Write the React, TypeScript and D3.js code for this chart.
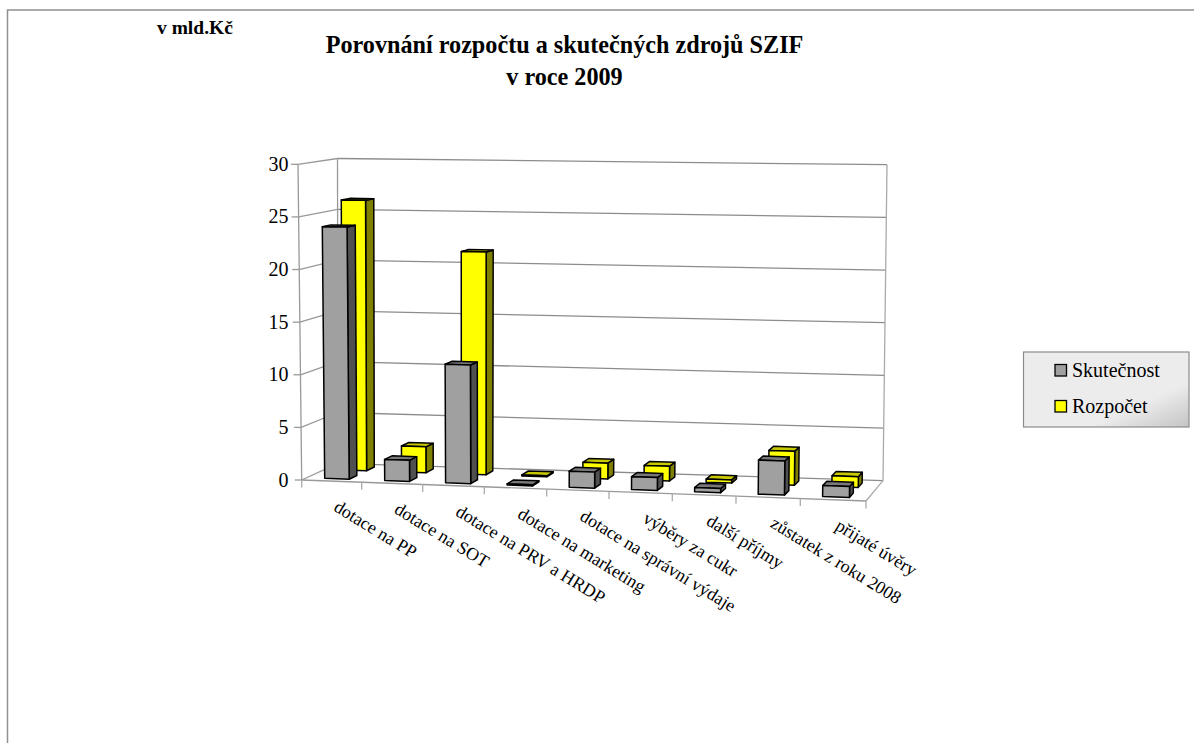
import React from "react";
import * as d3 from "d3";

const categories = ["dotace na PP", "dotace na SOT", "dotace na PRV a HRDP", "dotace na marketing", "dotace na správní výdaje", "výběry za cukr", "další příjmy", "zůstatek z roku 2008", "přijaté úvěry"];
const skutecnost = [24.0, 2.0, 11.2, 0.1, 1.5, 1.2, 0.4, 3.15, 1.0];
const rozpocet = [26.2, 2.5, 21.4, 0.1, 1.5, 1.4, 0.3, 3.2, 1.0];
const valueTicks = [0, 5, 10, 15, 20, 25, 30];
const seriesNames = ["Skutečnost", "Rozpočet"];

type P = [number, number];
const W = 1194, H = 743;
const FBL: P = [301.7, 480], FBR: P = [866, 501], BBL: P = [338, 463.3], BBR: P = [883, 480.7];
const FTL: P = [298, 164.3], FTR: P = [871, 172], BTL: P = [337.5, 158.5], BTR: P = [887, 164.7];
const tickX = [301.7, 361.7, 422.7, 484.3, 546.7, 609, 672.3, 736, 800.3, 866];

const uScale = d3.scaleLinear().domain(d3.range(10)).range(tickX.map(x => (x - tickX[0]) / (tickX[9] - tickX[0])));
const vScale = d3.scaleLinear().domain([0, 30]).range([0, 1]);
const mix = (a: P, b: P, t: number): P => [a[0] + (b[0] - a[0]) * t, a[1] + (b[1] - a[1]) * t];
const project = (c: number, depth: number, val: number): P => {
  const u = uScale(c), v = vScale(val);
  const bottom = mix(mix(FBL, FBR, u), mix(BBL, BBR, u), depth);
  const top = mix(mix(FTL, FTR, u), mix(BTL, BTR, u), depth);
  return mix(bottom, top, v);
};
const line = d3.line<P>();
const poly = (pts: P[]) => line(pts) + "Z";

const seriesStyle = [
  { values: rozpocet, w0: 0.64, w1: 0.86, front: "#ffff00", side: "#808000", top: "#c8c800" },
  { values: skutecnost, w0: 0.14, w1: 0.36, front: "#a0a0a0", side: "#505050", top: "#787878" },
];

function Bar({ i, value, s }: { i: number; value: number; s: typeof seriesStyle[0] }) {
  const a = i + 0.3, b = i + 0.71;
  const f = [project(a, s.w0, 0), project(b, s.w0, 0), project(b, s.w0, value), project(a, s.w0, value)] as P[];
  const side = [project(b, s.w0, 0), project(b, s.w1, 0), project(b, s.w1, value), project(b, s.w0, value)] as P[];
  const top = [project(a, s.w0, value), project(b, s.w0, value), project(b, s.w1, value), project(a, s.w1, value)] as P[];
  const common = { stroke: "#000", strokeWidth: 1.5, strokeLinejoin: "round" as const };
  return (
    <g>
      <path d={poly(side)} fill={s.side} {...common} />
      <path d={poly(top)} fill={s.top} {...common} />
      <path d={poly(f)} fill={s.front} {...common} />
    </g>
  );
}

const serif = "'Liberation Serif', serif";
const wall = "#999999";

export default function App() {
  const seg = (a: P, b: P, k: string, stroke = wall) => (
    <line key={k} x1={a[0]} y1={a[1]} x2={b[0]} y2={b[1]} stroke={stroke} strokeWidth={1.3} />
  );
  return (
    <svg width={W} height={H} viewBox={`0 0 ${W} ${H}`} style={{ position: "absolute", left: 0, top: 0, background: "#fff" }} fontFamily={serif}>
      <defs>
        <linearGradient id="legendFill" x1="0" y1="0" x2="1" y2="1">
          <stop offset="0" stopColor="#ececec" />
          <stop offset="0.7" stopColor="#ececec" />
          <stop offset="1" stopColor="#c4c4c4" />
        </linearGradient>
      </defs>
      <path d={`M7.5 ${H}V10H${W}`} fill="none" stroke="#909090" strokeWidth={1.5} />
      <text x={157} y={34} fontSize={19.5} fontWeight="bold" fill="#000">v mld.Kč</text>
      <text x={564.5} y={53} fontSize={24.2} fontWeight="bold" textAnchor="middle" fill="#000">Porovnání rozpočtu a skutečných zdrojů SZIF</text>
      <text x={564.5} y={85} fontSize={24.2} fontWeight="bold" textAnchor="middle" fill="#000">v roce 2009</text>

      {/* walls */}
      {valueTicks.map(t => (
        <g key={t}>
          {seg(project(0, 0, t), project(0, 1, t), `l${t}`)}
          {seg(project(9, 1, t), project(0, 1, t), `b${t}`, "#8c8c8c")}
          {seg(project(0, 0, t), [project(0, 0, t)[0] - 7, project(0, 0, t)[1]], `t${t}`)}
          <text x={288.5} y={project(0, 0, t)[1] + 6.5} fontSize={20} textAnchor="end" fill="#000">{t}</text>
        </g>
      ))}
      {seg(project(0, 0, 0), project(0, 0, 30), "le")}
      {seg(project(0, 1, 0), project(0, 1, 30), "lb")}
      {seg(project(9, 1, 0), project(9, 1, 30), "rb", "#aaaaaa")}
      {seg(project(9, 0, 0), project(9, 1, 0), "rf", "#aaaaaa")}
      {seg(project(0, 0, 0), project(9, 0, 0), "fr")}
      {d3.range(10).map(i => {
        const p = project(i, 0, 0);
        return seg(p, [p[0], p[1] + 7.5], `c${i}`, "#aaaaaa");
      })}

      {/* bars */}
      {seriesStyle.map((s, si) => (
        <g key={si}>{s.values.map((v, i) => <Bar key={i} i={i} value={v} s={s} />)}</g>
      ))}

      {/* category labels */}
      {categories.map((c, i) => {
        const p = project(i + 0.5, 0, 0);
        return (
          <text key={c} transform={`translate(${p[0] + 1},${p[1] + 29}) rotate(31.5)`} fontSize={18} fill="#000">{c}</text>
        );
      })}

      {/* legend */}
      <rect x={1023.5} y={352} width={165.5} height={75} fill="url(#legendFill)" stroke="#8c8c8c" strokeWidth={1.2} />
      {seriesNames.map((n, i) => (
        <g key={n}>
          <rect x={1055} y={364.5 + i * 36} width={11.5} height={11.5} fill={seriesStyle[1 - i].front} stroke="#000" strokeWidth={1.3} />
          <text x={1072} y={377 + i * 36} fontSize={20} fill="#000">{n}</text>
        </g>
      ))}
    </svg>
  );
}
